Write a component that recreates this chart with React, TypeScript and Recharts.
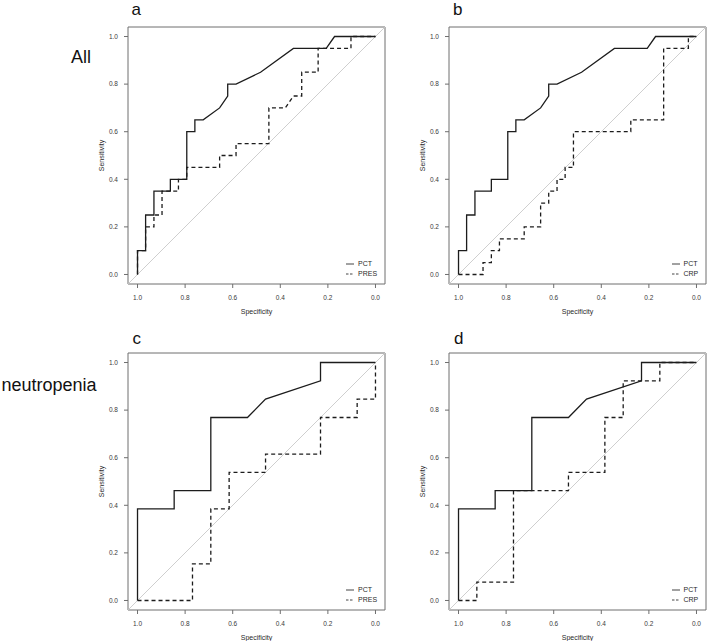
import { LineChart, Line, XAxis, YAxis, ReferenceLine, ReferenceArea, Legend } from 'recharts';

// ROC curves: specificity (x, reversed) vs sensitivity (y)
const PCT_ALL_SPEC = [1, 1, 0.966, 0.966, 0.931, 0.931, 0.862, 0.862, 0.793, 0.793, 0.759, 0.759, 0.724, 0.655, 0.621, 0.621, 0.586, 0.483, 0.345, 0.207, 0.172, 0];
const PCT_ALL_SENS = [0, 0.1, 0.1, 0.25, 0.25, 0.35, 0.35, 0.4, 0.4, 0.6, 0.6, 0.65, 0.65, 0.7, 0.75, 0.8, 0.8, 0.85, 0.95, 0.95, 1, 1];

const PRES_ALL_SPEC = [1, 1, 0.966, 0.966, 0.931, 0.931, 0.897, 0.897, 0.828, 0.828, 0.793, 0.793, 0.655, 0.655, 0.586, 0.586, 0.448, 0.448, 0.379, 0.345, 0.31, 0.31, 0.241, 0.241, 0.103, 0.103, 0];
const PRES_ALL_SENS = [0, 0.1, 0.1, 0.2, 0.2, 0.25, 0.25, 0.35, 0.35, 0.4, 0.4, 0.45, 0.45, 0.5, 0.5, 0.55, 0.55, 0.7, 0.7, 0.75, 0.75, 0.85, 0.85, 0.95, 0.95, 1, 1];

const CRP_ALL_SPEC = [1, 0.897, 0.897, 0.862, 0.862, 0.828, 0.828, 0.724, 0.724, 0.655, 0.655, 0.621, 0.621, 0.586, 0.586, 0.552, 0.552, 0.517, 0.517, 0.276, 0.276, 0.138, 0.138, 0.034, 0.034, 0];
const CRP_ALL_SENS = [0, 0, 0.05, 0.05, 0.1, 0.1, 0.15, 0.15, 0.2, 0.2, 0.3, 0.3, 0.35, 0.35, 0.4, 0.4, 0.45, 0.45, 0.6, 0.6, 0.65, 0.65, 0.95, 0.95, 1, 1];

const PCT_NEU_SPEC = [1, 1, 0.846, 0.846, 0.692, 0.692, 0.538, 0.462, 0.231, 0.231, 0];
const PCT_NEU_SENS = [0, 0.385, 0.385, 0.462, 0.462, 0.769, 0.769, 0.846, 0.923, 1, 1];

const PRES_NEU_SPEC = [1, 0.769, 0.769, 0.692, 0.692, 0.615, 0.615, 0.462, 0.462, 0.231, 0.231, 0.077, 0.077, 0, 0];
const PRES_NEU_SENS = [0, 0, 0.154, 0.154, 0.385, 0.385, 0.538, 0.538, 0.615, 0.615, 0.769, 0.769, 0.846, 0.846, 1];

const CRP_NEU_SPEC = [1, 0.923, 0.923, 0.769, 0.769, 0.538, 0.538, 0.385, 0.385, 0.308, 0.308, 0.154, 0.154, 0];
const CRP_NEU_SENS = [0, 0, 0.077, 0.077, 0.462, 0.462, 0.538, 0.538, 0.769, 0.769, 0.923, 0.923, 1, 1];

const TICKS = [0, 0.2, 0.4, 0.6, 0.8, 1];
const PANEL_LETTERS = ['a', 'b', 'c', 'd'];
const ROW_LABELS = ['All', 'neutropenia'];

const FONT = '"Liberation Sans", Arial, Helvetica, sans-serif';
const INK = '#1c1c1c';
const FRAME = '#6e6e6e';

const zip = (spec: number[], sens: number[]) => spec.map((s, i) => ({ spec: s, sens: sens[i] }));

type Series = { name: string; points: { spec: number; sens: number }[]; dash?: string };

const BOX = 257;
const ML = 40;
const MT = 5;
const XH = 34;

function RocPanel({ left, top, series, legendX }: { left: number; top: number; series: Series[]; legendX: number }) {
  return (
    <div style={{ position: 'absolute', left: left - ML, top: top - MT }}>
      <LineChart width={ML + BOX + 3} height={MT + BOX + XH} margin={{ top: MT, right: 3, bottom: 0, left: 0 }}>
        <XAxis
          dataKey="spec" type="number" domain={[-0.04, 1.04]} reversed allowDataOverflow
          ticks={TICKS} tickFormatter={(v: number) => v.toFixed(1)} height={XH}
          axisLine={false} tickSize={4} tickMargin={7} tickLine={{ stroke: FRAME }}
          tick={{ fontSize: 6.5, fill: '#3a3a3a', fontFamily: FONT }}
          label={{ value: 'Specificity', position: 'insideBottom', offset: 4, fontSize: 7, fill: '#2a2a2a', fontFamily: FONT }}
        />
        <YAxis
          dataKey="sens" type="number" domain={[-0.04, 1.04]} allowDataOverflow
          ticks={TICKS} tickFormatter={(v: number) => v.toFixed(1)} width={ML}
          axisLine={false} tickSize={4} tickMargin={6} tickLine={{ stroke: FRAME }}
          tick={{ fontSize: 6.5, fill: '#3a3a3a', fontFamily: FONT }}
          label={{ value: 'Sensitivity', angle: -90, position: 'insideLeft', offset: 14, fontSize: 7, fill: '#2a2a2a', fontFamily: FONT, style: { textAnchor: 'middle' } }}
        />
        <ReferenceLine
          segment={[{ x: 1.04, y: -0.04 }, { x: -0.04, y: 1.04 }]}
          stroke="#c9c9c9" strokeWidth={0.9} ifOverflow="visible"
        />
        {series.map((s) => (
          <Line
            key={s.name} data={s.points} dataKey="sens" name={s.name} type="linear"
            stroke={INK} strokeWidth={1.3} strokeDasharray={s.dash} dot={false} activeDot={false}
            isAnimationActive={false}
          />
        ))}
        <ReferenceArea x1={-0.04} x2={1.04} y1={-0.04} y2={1.04} fill="none" stroke={FRAME} strokeWidth={1} ifOverflow="visible" />
        <Legend
          layout="vertical" align="center" verticalAlign="middle"
          wrapperStyle={{ left: legendX, top: 237, width: 'auto', height: 'auto' }}
          content={() => (
            <div style={{ fontFamily: FONT, fontSize: 7, color: '#2a2a2a' }}>
              {series.map((s) => (
                <div key={s.name} style={{ display: 'flex', alignItems: 'center', height: 10 }}>
                  <svg width={8} height={10} style={{ display: 'block' }}>
                    <line x1={0} x2={8} y1={5} y2={5} stroke="#444" strokeWidth={1} strokeDasharray={s.dash ? '2.5 1.5' : undefined} />
                  </svg>
                  <span style={{ marginLeft: 4, lineHeight: '10px' }}>{s.name}</span>
                </div>
              ))}
            </div>
          )}
        />
      </LineChart>
    </div>
  );
}

const textStyle = (left: number, top: number, size: number) => ({
  position: 'absolute' as const, left, top, fontFamily: FONT, fontSize: size, lineHeight: `${size}px`, color: '#111', whiteSpace: 'nowrap' as const,
});

export default function App() {
  const pct = (spec: number[], sens: number[]): Series => ({ name: 'PCT', points: zip(spec, sens) });
  const dashed = (name: string, spec: number[], sens: number[]): Series => ({ name, points: zip(spec, sens), dash: '4 3' });

  return (
    <div style={{ position: 'absolute', left: 0, top: 0, width: 709, height: 641, overflow: 'hidden', background: '#fff' }}>
      <div style={textStyle(71, 47.8, 18)}>{ROW_LABELS[0]}</div>
      <div style={textStyle(1.5, 375.5, 18)}>{ROW_LABELS[1]}</div>
      <div style={textStyle(131.5, 0.9, 17)}>{PANEL_LETTERS[0]}</div>
      <div style={textStyle(453, 0.9, 17)}>{PANEL_LETTERS[1]}</div>
      <div style={textStyle(132.5, 329.6, 17)}>{PANEL_LETTERS[2]}</div>
      <div style={textStyle(454, 329.6, 17)}>{PANEL_LETTERS[3]}</div>

      <RocPanel left={127.5} top={26.8} legendX={258.5}
        series={[pct(PCT_ALL_SPEC, PCT_ALL_SENS), dashed('PRES', PRES_ALL_SPEC, PRES_ALL_SENS)]} />
      <RocPanel left={449} top={26.8} legendX={262.5}
        series={[pct(PCT_ALL_SPEC, PCT_ALL_SENS), dashed('CRP', CRP_ALL_SPEC, CRP_ALL_SENS)]} />
      <RocPanel left={127.5} top={352.5} legendX={258.5}
        series={[pct(PCT_NEU_SPEC, PCT_NEU_SENS), dashed('PRES', PRES_NEU_SPEC, PRES_NEU_SENS)]} />
      <RocPanel left={449} top={352.5} legendX={262.5}
        series={[pct(PCT_NEU_SPEC, PCT_NEU_SENS), dashed('CRP', CRP_NEU_SPEC, CRP_NEU_SENS)]} />
    </div>
  );
}
